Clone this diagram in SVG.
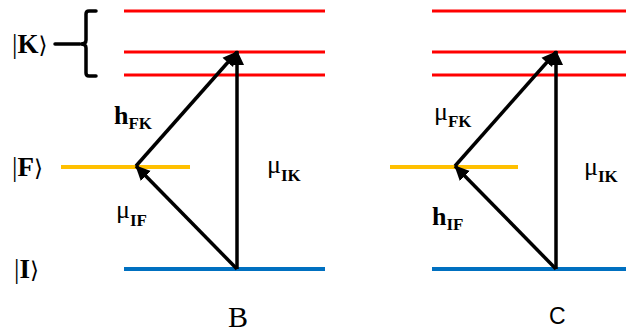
<svg xmlns="http://www.w3.org/2000/svg" width="626" height="332" viewBox="0 0 626 332">
<style>
.red{stroke:#ff0000;stroke-width:3;fill:none}
.org{stroke:#ffc000;stroke-width:4;fill:none}
.blu{stroke:#0070c0;stroke-width:4;fill:none}
.arr{stroke:#000;stroke-width:3.5;fill:none;marker-end:url(#ah)}
.lbl{font-family:"Liberation Serif","DejaVu Serif",serif;fill:#000}
.big{font-size:26px}
.sub{font-size:17px;font-weight:bold}
.ket{font-family:"Liberation Serif","DejaVu Serif",serif;font-size:27px}
</style>
<defs>
<marker id="ah" markerUnits="userSpaceOnUse" markerWidth="16" markerHeight="16" viewBox="0 0 16 16" refX="14" refY="8" orient="auto">
<path d="M0,1 L15,8 L0,15 Z" fill="#000"/>
</marker>
</defs>
<g id="kets">
<text class="ket" x="12" y="53">|<tspan font-weight="bold">K</tspan><tspan font-family="DejaVu Serif" font-size="23">⟩</tspan></text>
<text class="ket" x="12" y="176">|<tspan font-weight="bold">F</tspan><tspan font-family="DejaVu Serif" font-size="23">⟩</tspan></text>
<text class="ket" x="14" y="278">|<tspan font-weight="bold">I</tspan><tspan font-family="DejaVu Serif" font-size="23">⟩</tspan></text>
</g>
<g id="brace" stroke="#000" stroke-width="3.5" fill="none" stroke-linecap="round">
<line x1="55" y1="44" x2="80" y2="44"/>
<path d="M96,11 L89,11 Q86,11 86,14 L86,40 Q86,44 81,44 Q86,44 86,48 L86,73 Q86,76 89,76 L96,76"/>
</g>
<g id="panelB">
<line class="red" x1="124" y1="11" x2="325" y2="11"/>
<line class="red" x1="124" y1="52" x2="325" y2="52"/>
<line class="red" x1="124" y1="75" x2="325" y2="75"/>
<line class="org" x1="61" y1="167" x2="190" y2="167"/>
<line class="blu" x1="124" y1="269" x2="325" y2="269"/>
</g>
<g id="panelC">
<line class="red" x1="432" y1="11" x2="626" y2="11"/>
<line class="red" x1="432" y1="52" x2="626" y2="52"/>
<line class="red" x1="432" y1="75" x2="626" y2="75"/>
<line class="org" x1="390" y1="167" x2="518" y2="167"/>
<line class="blu" x1="432" y1="269" x2="626" y2="269"/>
</g>
<g id="connectors">
<line class="arr" x1="237" y1="269" x2="136" y2="166"/>
<line class="arr" x1="136" y1="166" x2="237" y2="52"/>
<line class="arr" x1="237" y1="269" x2="237" y2="51"/>
<line class="arr" x1="556" y1="269" x2="455" y2="166"/>
<line class="arr" x1="455" y1="166" x2="556" y2="52"/>
<line class="arr" x1="556" y1="269" x2="556" y2="51"/>
</g>
<g id="labels" class="lbl">
<text x="114" y="124"><tspan class="big" font-weight="bold">h</tspan><tspan class="sub" y="129">FK</tspan></text>
<text x="116" y="218"><tspan class="big">μ</tspan><tspan class="sub" y="226">IF</tspan></text>
<text x="267" y="173"><tspan class="big">μ</tspan><tspan class="sub" y="181">IK</tspan></text>
<text x="434" y="120"><tspan class="big">μ</tspan><tspan class="sub" y="127">FK</tspan></text>
<text x="432" y="225"><tspan class="big" font-weight="bold">h</tspan><tspan class="sub" y="230">IF</tspan></text>
<text x="584" y="175"><tspan class="big">μ</tspan><tspan class="sub" y="182">IK</tspan></text>
<text x="228" y="327" font-size="30">B</text>
<text x="549" y="324" font-family="Liberation Sans, sans-serif" font-size="23">C</text>
</g>
</svg>
